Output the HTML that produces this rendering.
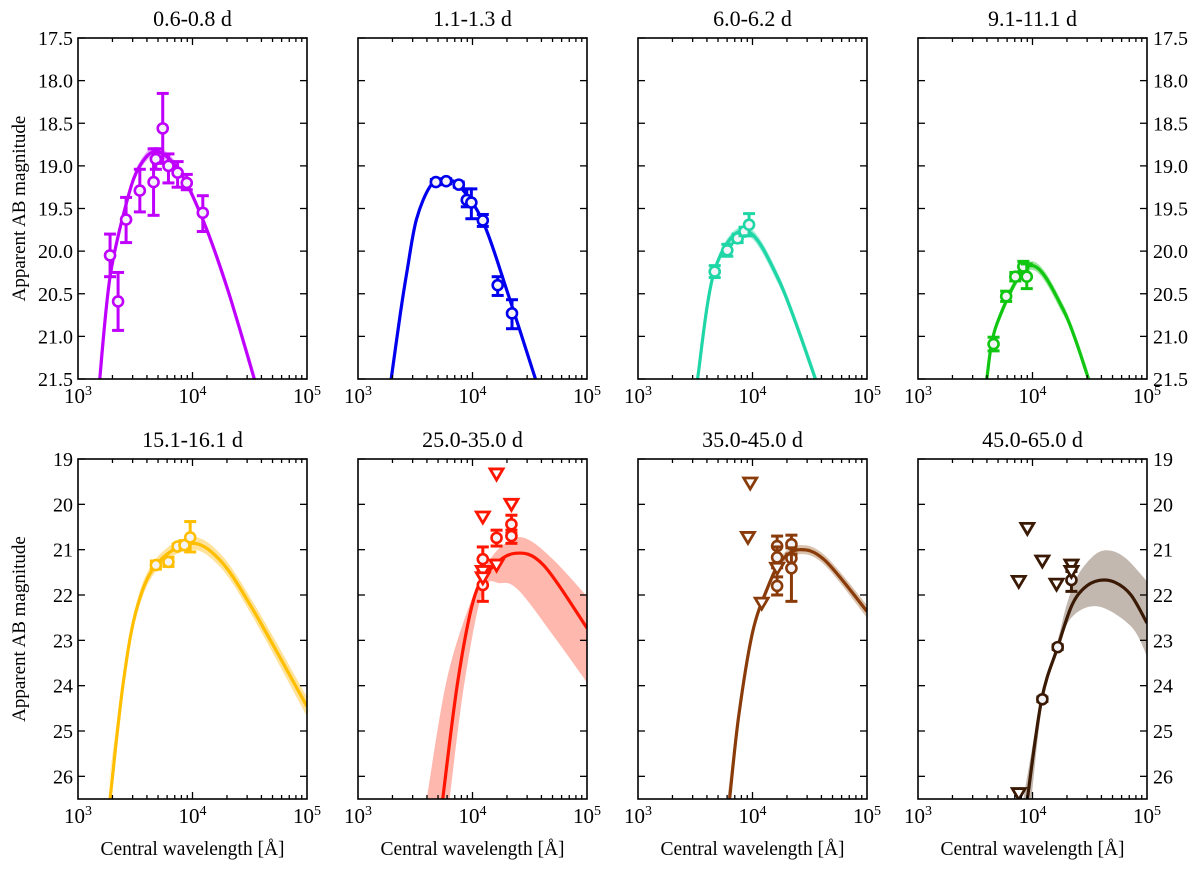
<!DOCTYPE html>
<html><head><meta charset="utf-8"><style>
html,body{margin:0;padding:0;background:#fff;}
svg{display:block;font-family:"Liberation Serif",serif;}
</style></head><body>
<svg id="fig" width="1200" height="869" viewBox="0 0 1200 869" xmlns="http://www.w3.org/2000/svg"></svg>
<script>
// ---------- data ----------
const titles = ["0.6-0.8 d","1.1-1.3 d","6.0-6.2 d","9.1-11.1 d","15.1-16.1 d","25.0-35.0 d","35.0-45.0 d","45.0-65.0 d"];
const colors = ["#c000ff","#0000ee","#1ed6a6","#11c611","#ffbf00","#ff1500","#8a3b0a","#3a1a05"];
const bandColors = ["#e6a6ff","#9a9aff","#9eedd8","#9be89b","#ffe39c","#ffb8ae","#d9c2ae","#c2b8b0"];
const topTicks = ["17.5","18.0","18.5","19.0","19.5","20.0","20.5","21.0","21.5"];
const botTicks = ["19","20","21","22","23","24","25","26"];
// model curve knots: log10(wavelength), magnitude
const curveLog = [
 [3.19,3.28,3.43,3.54,3.69,3.89,4.09,4.30,4.54],
 [3.29,3.37,3.43,3.51,3.63,3.74,3.88,4.09,4.30,4.55],
 [3.52,3.67,3.94,4.23,4.55],
 [3.60,3.69,3.98,4.27,4.49],
 [3.28,3.395,3.51,3.68,3.98,4.24,4.53,5.0],
 [3.74,3.87,4.01,4.15,4.37,4.62,5.0],
 [3.80,3.88,4.0,4.13,4.25,4.41,4.63,5.0],
 [3.955,4.08,4.22,4.34,4.45,4.58,4.72,4.86,5.0]
];
const curveMag = [
 [21.5,20.3,19.4,19.0,18.83,19.07,19.63,20.42,21.5],
 [21.5,20.73,20.22,19.63,19.24,19.17,19.23,19.65,20.46,21.5],
 [21.5,20.22,19.76,20.34,21.5],
 [21.5,20.85,20.17,20.69,21.5],
 [26.5,23.94,22.33,21.34,20.86,21.23,22.33,24.46],
 [26.5,23.93,22.1,21.45,21.08,21.34,22.73],
 [26.5,24.66,22.83,21.85,21.25,21.0,21.23,22.36],
 [26.5,24.3,23.15,22.25,21.85,21.68,21.72,22.0,22.62]
];
// uncertainty bands: bright edge
const bandHiLog = [
 [3.17,3.28,3.43,3.54,3.69,3.89,4.09,4.30,4.56],
 [3.28,3.37,3.43,3.51,3.63,3.74,3.88,4.09,4.30,4.56],
 [3.51,3.67,3.94,4.23,4.57],
 [3.59,3.69,3.98,4.27,4.51],
 [3.25,3.395,3.51,3.68,3.98,4.24,4.53,5.0],
 [3.60,3.77,3.96,4.15,4.34,4.49,4.71,5.0],
 [3.78,3.88,4.0,4.13,4.25,4.41,4.63,5.0],
 [3.92,4.08,4.22,4.30,4.40,4.55,4.68,4.82,5.0]
];
const bandHi = [
 [21.5,20.25,19.35,18.95,18.78,19.02,19.58,20.36,21.5],
 [21.5,20.7,20.19,19.6,19.21,19.14,19.2,19.62,20.42,21.5],
 [21.5,20.17,19.71,20.28,21.5],
 [21.5,20.8,20.12,20.63,21.5],
 [26.5,23.8,22.18,21.2,20.72,21.08,22.16,24.25],
 [26.5,23.93,22.32,21.23,20.78,20.78,21.23,22.03],
 [26.5,24.5,22.72,21.76,21.15,20.9,21.12,22.22],
 [26.5,24.25,23.0,22.2,21.55,21.1,21.02,21.2,21.7]
];
// uncertainty bands: faint edge
const bandLoLog = [
 [3.17,3.28,3.43,3.54,3.69,3.89,4.09,4.30,4.56],
 [3.28,3.37,3.43,3.51,3.63,3.74,3.88,4.09,4.30,4.56],
 [3.51,3.67,3.94,4.23,4.57],
 [3.59,3.69,3.98,4.27,4.51],
 [3.25,3.395,3.51,3.68,3.98,4.24,4.53,5.0],
 [3.80,3.93,4.09,4.24,4.40,4.71,5.0],
 [3.80,3.88,4.0,4.13,4.25,4.41,4.63,5.0],
 [3.99,4.09,4.22,4.34,4.57,4.86,5.0]
];
const bandLo = [
 [21.5,20.35,19.45,19.05,18.88,19.12,19.68,20.48,21.5],
 [21.5,20.76,20.25,19.66,19.27,19.2,19.26,19.68,20.5,21.5],
 [21.5,20.27,19.81,20.4,21.5],
 [21.5,20.9,20.22,20.75,21.5],
 [26.5,24.08,22.48,21.48,21.0,21.38,22.5,24.68],
 [26.5,23.93,21.92,21.74,21.89,22.91,23.93],
 [26.5,24.82,22.94,21.96,21.36,21.1,21.34,22.5],
 [26.5,24.35,23.25,22.5,22.25,22.69,23.35]
];
// detections: log wavelength, magnitude, bright err edge, faint err edge
const detLog = [
 [3.28,3.35,3.42,3.54,3.66,3.68,3.74,3.79,3.87,3.95,4.09],
 [3.68,3.77,3.88,3.95,3.99,4.09,4.22,4.345],
 [3.67,3.78,3.87,3.93,3.97],
 [3.66,3.77,3.85,3.92,3.95],
 [3.68,3.79,3.87,3.93,3.98],
 [4.09,4.09,4.21,4.34,4.34],
 [4.215,4.215,4.215,4.34,4.34,4.34],
 [4.34,4.22,4.086]
];
const detMag = [
 [20.05,20.59,19.63,19.29,19.19,18.92,18.56,19.0,19.08,19.2,19.55],
 [19.19,19.18,19.22,19.40,19.43,19.64,20.4,20.73],
 [20.24,19.99,19.85,19.77,19.69],
 [21.09,20.53,20.3,20.18,20.3],
 [21.34,21.27,20.93,20.9,20.73],
 [21.21,21.78,20.74,20.44,20.70],
 [20.92,21.17,21.8,20.88,21.19,21.41],
 [21.67,23.15,24.3]
];
const detHi = [
 [19.8,20.25,19.37,19.04,18.8,18.8,18.15,18.86,18.95,19.1,19.35],
 [19.16,19.15,19.19,19.27,19.27,19.57,20.3,20.57],
 [20.17,19.92,19.8,19.72,19.56],
 [21.01,20.47,20.25,20.12,20.15],
 [21.25,21.17,20.88,20.8,20.38],
 [20.94,21.48,20.57,20.24,20.57],
 [20.7,20.94,21.6,20.68,20.96,21.1],
 [21.48,23.1,24.25]
];
const detLo = [
 [20.3,20.93,19.9,19.54,19.58,19.04,18.97,19.2,19.25,19.28,19.77],
 [19.22,19.21,19.25,19.48,19.62,19.71,20.52,20.91],
 [20.31,20.06,19.9,19.82,19.82],
 [21.17,20.59,20.35,20.24,20.44],
 [21.43,21.37,20.98,21.0,21.05],
 [21.48,22.14,20.92,20.64,20.86],
 [21.15,21.4,22.0,21.1,21.4,22.14],
 [21.92,23.2,24.35]
];
// upper limits (down triangles)
const limLog = [[],[],[],[],[],
 [4.09,4.09,4.09,4.21,4.21,4.34],
 [3.98,3.96,4.08,4.215],
 [3.955,3.88,4.086,4.21,4.34,4.34,3.88]
];
const limMag = [[],[],[],[],[],
 [20.28,21.48,21.62,19.33,21.34,20.0],
 [19.53,20.73,22.18,21.41],
 [20.53,21.70,21.25,21.76,21.34,21.48,26.38]
];

// ---------- layout ----------
const NS="http://www.w3.org/2000/svg";
const svg=document.getElementById('fig');
const lefts=[78,358,638,918], W=229;
const tops=[38,459], H=[341,340];
const yR=[[17.5,21.5],[19,26.5]];
function mk(tag,attrs,parent){const e=document.createElementNS(NS,tag);for(const k in attrs)e.setAttribute(k,attrs[k]);(parent||svg).appendChild(e);return e;}

function smooth(pts){
  if(pts.length<2)return "";
  let d="M"+pts[0][0].toFixed(2)+","+pts[0][1].toFixed(2);
  for(let i=0;i<pts.length-1;i++){
    const p0=pts[Math.max(0,i-1)],p1=pts[i],p2=pts[i+1],p3=pts[Math.min(pts.length-1,i+2)];
    const c1=[p1[0]+(p2[0]-p0[0])/6,p1[1]+(p2[1]-p0[1])/6];
    const c2=[p2[0]-(p3[0]-p1[0])/6,p2[1]-(p3[1]-p1[1])/6];
    d+="C"+c1[0].toFixed(2)+","+c1[1].toFixed(2)+" "+c2[0].toFixed(2)+","+c2[1].toFixed(2)+" "+p2[0].toFixed(2)+","+p2[1].toFixed(2);
  }
  return d;
}

for(let p=0;p<8;p++){
  const row=p<4?0:1, col=p%4;
  const L=lefts[col], T=tops[row], h=H[row], R=yR[row];
  const xs=l=>L+(l-3)/2*W;
  const ys=m=>T+(m-R[0])/(R[1]-R[0])*h;
  const g=mk('g',{});
  
  
  const cid='clip'+p;
  const cp=mk('clipPath',{id:cid},g); mk('rect',{x:L,y:T,width:W,height:h},cp);
  const plot=mk('g',{'clip-path':'url(#'+cid+')'},g);
  // band
  const hi=bandHiLog[p].map((l,i)=>[xs(l),ys(bandHi[p][i])]);
  const lo=bandLoLog[p].map((l,i)=>[xs(l),ys(bandLo[p][i])]).reverse();
  const bd=smooth(hi)+"L"+smooth(lo).slice(1)+"Z";
  const band=mk('path',{d:bd,fill:bandColors[p],stroke:'none'},plot);
  
  
  // curve
  const cpts=curveLog[p].map((l,i)=>[xs(l),ys(curveMag[p][i])]);
  const cur=mk('path',{d:smooth(cpts),fill:'none',stroke:colors[p],'stroke-width':3.2},plot);
  
  
  // detections
  for(let i=0;i<detLog[p].length;i++){
    const x=xs(detLog[p][i]), y=ys(detMag[p][i]), y1=ys(detHi[p][i]), y2=ys(detLo[p][i]);
    const eg=mk('g',{stroke:colors[p],'stroke-width':3,fill:'none'},plot);
    
    
    mk('line',{x1:x,y1:y1,x2:x,y2:y2},eg);
    mk('line',{x1:x-6,y1:y1,x2:x+6,y2:y1},eg);
    mk('line',{x1:x-6,y1:y2,x2:x+6,y2:y2},eg);
    mk('circle',{cx:x,cy:y,r:5,fill:'#f4f4f8','stroke-width':2.6},eg);
  }
  // upper limits
  for(let i=0;i<limLog[p].length;i++){
    const x=xs(limLog[p][i]), y=ys(limMag[p][i]);
    const t=mk('path',{d:`M${x-6.5},${y-5}L${x+6.5},${y-5}L${x},${y+6}Z`,fill:'#fff',stroke:colors[p],'stroke-width':2.8},plot);
    
    
  }
  // frame
  const fr=mk('rect',{x:L,y:T,width:W,height:h,fill:'none',stroke:'#000','stroke-width':1.6},g);
  
  
  // x ticks
  for(let dec=3;dec<5;dec++){
    for(let k=1;k<10;k++){
      const x=xs(dec+Math.log10(k)); const len=k===1?7:4;
      if(k===1&&dec===3)continue;
      mk('line',{x1:x,y1:T+h,x2:x,y2:T+h-len,stroke:'#000','stroke-width':1.3},g);
      mk('line',{x1:x,y1:T,x2:x,y2:T+len,stroke:'#000','stroke-width':1.3},g);
    }
  }
  for(let e=3;e<=5;e++){
    const tx=mk('text',{x:xs(e),y:T+h+24,'text-anchor':'middle','font-size':21},g);
    
    
    tx.textContent='10';
    const s=mk('tspan',{dy:-8,'font-size':14},tx); s.textContent=String(e);
  }
  // y ticks
  const labs=row===0?topTicks:botTicks;
  labs.forEach((lb)=>{
    const y=ys(parseFloat(lb));
    mk('line',{x1:L,y1:y,x2:L+7,y2:y,stroke:'#000','stroke-width':1.3},g);
    mk('line',{x1:L+W,y1:y,x2:L+W-7,y2:y,stroke:'#000','stroke-width':1.3},g);
    if(col===0||col===3){
      const t=mk('text',{x:col===0?L-5:L+W+6,y:y+7,'text-anchor':col===0?'end':'start','font-size':20},g);
      
      
      t.textContent=lb;
    }
  });
  // title
  const tt=mk('text',{x:L+W/2,y:T-12,'text-anchor':'middle','font-size':22},g);
  
  
  tt.textContent=titles[p];
  if(row===1){
    const xl=mk('text',{x:L+W/2,y:855,'text-anchor':'middle','font-size':19.5},g);
    
    
    xl.textContent='Central wavelength [Å]';
  }
  if(col===0){
    const cy=T+h/2;
    const yl=mk('text',{x:0,y:0,transform:`translate(25,${cy}) rotate(-90)`,'text-anchor':'middle','font-size':19},g);
    
    
    yl.textContent='Apparent AB magnitude';
  }
}
</script>
</body></html>
